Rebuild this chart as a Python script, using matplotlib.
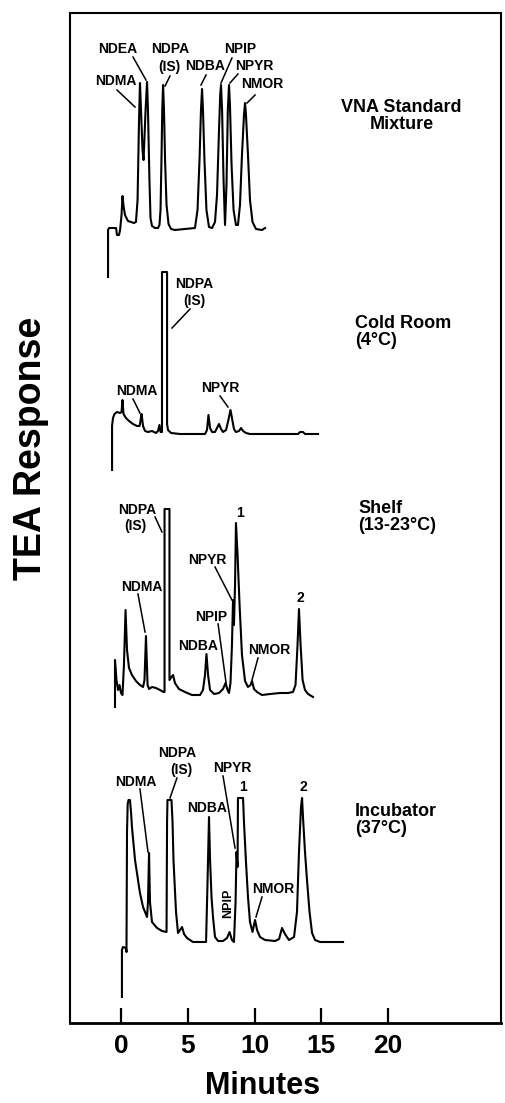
import matplotlib
matplotlib.use("Agg")
import matplotlib.pyplot as plt

# ---------------- data (time in minutes, detector response in arbitrary units) -------------
minute_ticks = [0, 5, 10, 15, 20]

std_time = [-0.97, -0.97, -0.90, -0.37, -0.30, -0.15, -0.07, 0.04, 0.11, 0.19, 0.30, 0.52, 0.75,
            0.97, 1.12, 1.24, 1.35, 1.42, 1.50, 1.61, 1.69, 1.84, 1.95, 2.02, 2.13, 2.21, 2.32,
            2.55, 2.77, 2.88, 2.96, 3.03, 3.09, 3.15, 3.22, 3.30, 3.41, 3.56, 3.75, 4.04, 5.54,
            5.73, 5.88, 5.99, 6.07, 6.14, 6.25, 6.40, 6.59, 6.82, 7.04, 7.19, 7.34, 7.43, 7.49,
            7.57, 7.68, 7.79, 7.90, 8.00, 8.09, 8.16, 8.28, 8.43, 8.61, 8.76, 8.91, 9.06, 9.21,
            9.29, 9.36, 9.51, 9.66, 9.85, 10.11, 10.56, 10.79]
std_resp = [-47, 0, 2, 2, -5, -5, 0, 15, 34, 24, 15, 9, 8,
            7, 8, 30, 110, 147, 120, 80, 70, 120, 148, 120, 50, 12, 4,
            2, 2, 5, 20, 70, 120, 145, 120, 70, 25, 6, 1, 0, 2,
            20, 70, 120, 141, 120, 70, 20, 3, 2, 8, 35, 100, 135, 145,
            120, 50, 5, 45, 120, 145, 125, 65, 20, 5, 5, 25, 75, 115,
            127, 115, 75, 30, 8, 1, 0, 2]

cold_time = [-0.67, -0.67, -0.60, -0.49, -0.30, -0.07, 0.04, 0.11, 0.19, 0.37, 0.60, 0.90, 1.20,
             1.39, 1.46, 1.54, 1.65, 1.80, 2.02, 2.32, 2.62, 2.77, 2.88, 2.96, 3.07, 3.07, 3.45,
             3.45, 3.52, 3.75, 4.42, 6.29, 6.44, 6.55, 6.67, 6.82, 7.04, 7.19, 7.34, 7.49, 7.64,
             7.87, 8.01, 8.20, 8.31, 8.46, 8.61, 8.84, 8.99, 9.14, 9.36, 9.66, 13.26, 13.41,
             13.63, 13.78, 14.76]
cold_resp = [-36, 8, 16, 20, 22, 21, 22, 34, 20, 16, 13, 10, 8,
             8, 13, 20, 8, 3, 2, 3, 1, 3, 9, 2, 2, 162, 162,
             10, 4, 1, 0, 0, 4, 19, 6, 2, 2, 6, 10, 5, 2,
             4, 12, 24, 16, 5, 2, 3, 6, 3, 1, 0, 0, 2,
             2, 0, 0]

shelf_time = [-0.45, -0.45, -0.34, -0.22, -0.11, 0.00, 0.11, 0.22, 0.34, 0.45, 0.60, 0.82, 1.12,
              1.42, 1.65, 1.76, 1.87, 1.99, 2.10, 2.32, 2.62, 2.92, 3.18, 3.26, 3.26, 3.63, 3.63,
              3.78, 3.90, 4.04, 4.34, 4.79, 5.32, 5.92, 6.14, 6.29, 6.40, 6.52, 6.67, 6.97, 7.34,
              7.64, 7.83, 7.98, 8.09, 8.20, 8.31, 8.39, 8.46, 8.54, 8.61, 8.73, 8.88, 9.06, 9.29,
              9.51, 9.70, 9.81, 9.96, 10.19, 10.56, 11.16, 11.91, 12.51, 12.88, 13.07, 13.22,
              13.33, 13.45, 13.60, 13.78, 14.01, 14.38]
shelf_resp = [-12, 35, 15, 5, 10, 2, 0, 30, 85, 45, 27, 20, 14,
              10, 8, 15, 59, 10, 6, 8, 7, 5, 3, 3, 186, 186, 15,
              18, 20, 12, 6, 3, 0, 0, 5, 20, 41, 20, 5, 1, 2,
              6, 12, 5, 2, 12, 50, 95, 70, 110, 172, 140, 90, 40, 14,
              8, 10, 14, 6, 3, 0, 1, 2, 2, 3, 10, 50,
              86, 50, 15, 5, 1, -2]

incub_time = [0.07, 0.07, 0.15, 0.37, 0.41, 0.45, 0.50, 0.56, 0.67, 0.75, 0.82, 1.05, 1.42,
              1.65, 1.95, 2.02, 2.10, 2.17, 2.32, 2.70, 3.07, 3.41, 3.45, 3.48, 3.78, 3.86, 3.93,
              4.12, 4.27, 4.42, 4.57, 4.72, 4.94, 5.39, 6.37, 6.48, 6.59, 6.67, 6.78, 6.89, 7.04,
              7.27, 7.64, 7.94, 8.13, 8.31, 8.46, 8.58, 8.65, 8.73, 8.76, 9.14, 9.21, 9.36, 9.51,
              9.66, 9.85, 10.04, 10.19, 10.41, 10.79, 11.54, 11.84, 12.06, 12.28, 12.58, 12.96,
              13.18, 13.33, 13.48, 13.56, 13.63, 13.78, 13.93, 14.12, 14.31, 14.53, 14.91, 16.63]
incub_resp = [-55, -8, -5, -6, -10, 110, 138, 142, 142, 130, 115, 82, 49,
              35, 25, 40, 89, 40, 20, 14, 11, 10, 120, 142, 142, 120, 82,
              30, 9, 12, 15, 8, 4, 0, 0, 60, 125, 82, 45, 25, 5,
              1, 1, 4, 10, 2, 0, 40, 90, 75, 144, 144, 120, 80, 45,
              20, 10, 22, 12, 5, 2, 1, 3, 14, 8, 2, 5,
              30, 90, 135, 144, 125, 90, 62, 30, 9, 2, 0, 0]

sample_names = ["VNA Standard\nMixture", "Cold Room\n(4°C)", "Shelf\n(13-23°C)", "Incubator\n(37°C)"]

# peak labels: (text, label x [min], label y, leader start, leader end)
std_labels = [("NDEA", -0.22, 974, (0.90, 966), (1.87, 943)),
              ("NDMA", -0.37, 942, (-0.30, 933), (1.05, 916)),
              ("NDPA", 3.67, 974, None, None),
              ("(IS)", 3.60, 956, (3.67, 947), (3.30, 937)),
              ("NDBA", 6.29, 957, (6.37, 948), (5.99, 938)),
              ("NPIP", 8.91, 974, (8.31, 965), (7.49, 940)),
              ("NPYR", 9.96, 957, (8.76, 949), (8.16, 940)),
              ("NMOR", 10.56, 939, (10.04, 928), (9.44, 920))]
cold_labels = [("NDPA", 5.47, 739, None, None),
               ("(IS)", 5.47, 722, (5.17, 714), (3.82, 695)),
               ("NDMA", 1.20, 632, (0.90, 624), (1.42, 610)),
               ("NPYR", 7.42, 635, (7.42, 627), (8.01, 616))]
shelf_labels = [("NDPA", 1.20, 513, None, None),
                ("(IS)", 1.05, 497, (2.55, 506), (3.07, 491)),
                ("1", 8.91, 510, None, None),
                ("NPYR", 6.44, 463, (7.04, 456), (8.31, 423)),
                ("NDMA", 1.57, 436, (1.27, 429), (1.80, 391)),
                ("NPIP", 6.74, 406, (7.27, 399), (7.87, 340)),
                ("2", 13.41, 425, None, None),
                ("NDBA", 5.77, 377, None, None),
                ("NMOR", 11.09, 373, (10.26, 365), (9.81, 343))]
incub_labels = [("NDPA", 4.19, 270, None, None),
                ("(IS)", 4.49, 253, (4.19, 245), (3.67, 225)),
                ("NDMA", 1.12, 241, (1.42, 234), (2.02, 171)),
                ("NPYR", 8.31, 255, (7.64, 247), (8.54, 175)),
                ("1", 9.14, 236, None, None),
                ("2", 13.63, 236, None, None),
                ("NDBA", 6.44, 215, None, None),
                ("NMOR", 11.39, 134, (10.56, 126), (10.11, 106))]

# ---------------- layout / style ----------------
FONT = ['Liberation Sans', 'DejaVu Sans']
offsets = [793, 589, 328, 81]
name_pos = [(21.0, 907, 'center'), (17.53, 691, 'left'), (17.75, 506, 'left'), (17.53, 203, 'left')]

fig = plt.figure(figsize=(5.06, 11.03), dpi=100)
ax = fig.add_axes([70 / 506, 80 / 1103, 431 / 506, 1010 / 1103])
ax.set_xlim(-3.82, 28.46)
ax.set_ylim(0, 1010)

traces = [(std_time, std_resp), (cold_time, cold_resp), (shelf_time, shelf_resp), (incub_time, incub_resp)]
for (t, r), off in zip(traces, offsets):
    ax.plot(t, [v + off for v in r], color='black', lw=1.5, solid_joinstyle='round')

for labels in (std_labels, cold_labels, shelf_labels, incub_labels):
    for txt, lx, ly, p0, p1 in labels:
        ax.text(lx, ly, txt, ha='center', va='center', fontsize=10, fontweight='bold',
                family=FONT)
        if p0 is not None:
            ax.plot([p0[0], p1[0]], [p0[1], p1[1]], color='black', lw=1.1)

# rotated NPIP label in the incubator trace
ax.text(8.01, 120, "NPIP", rotation=90, ha='center', va='center', fontsize=9,
        fontweight='bold', family=FONT)

for name, (nx, ny, ha) in zip(sample_names, name_pos):
    ax.text(nx, ny, name, ha=ha, va='center', ma=ha, fontsize=13, fontweight='bold',
            family=FONT, linespacing=1.05)

ax.set_xticks(minute_ticks)
ax.set_xticklabels([str(m) for m in minute_ticks])
ax.set_yticks([])
ax.tick_params(axis='x', direction='in', length=11, width=1.6, pad=8, labelsize=19)
for lab in ax.get_xticklabels():
    lab.set_fontweight('bold')
    lab.set_family(FONT)
for side, sp in ax.spines.items():
    sp.set_linewidth(2.0 if side == 'bottom' else 1.5)

fig.text(263 / 506, 1 - 1086 / 1103, "Minutes", ha='center', va='center', fontsize=22,
         fontweight='bold', family=FONT)
fig.text(31 / 506, 1 - 448 / 1103, "TEA Response", rotation=90, ha='center', va='center',
         fontsize=27, fontweight='bold', family=FONT)

fig.savefig("out.png", dpi=100)
